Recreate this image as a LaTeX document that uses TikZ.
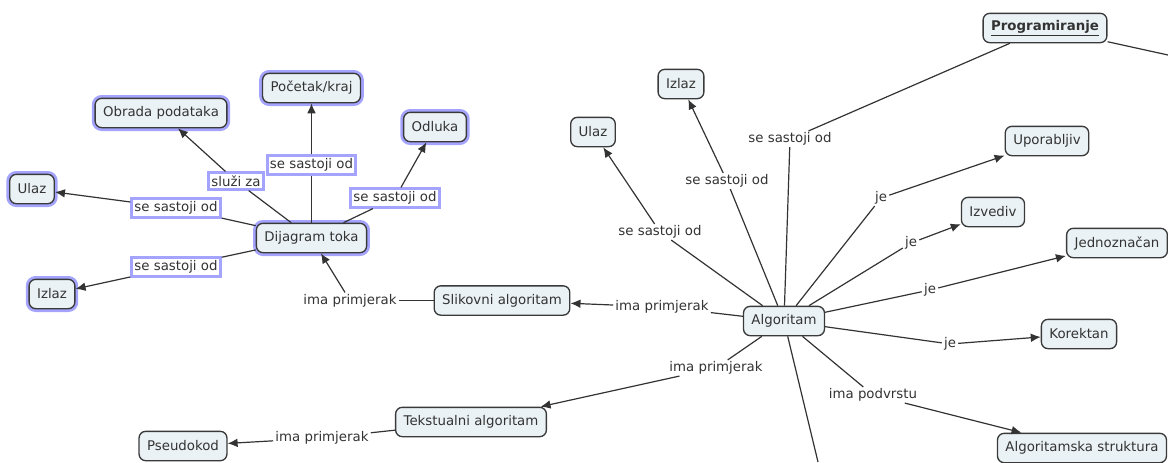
\documentclass[tikz,border=0pt]{standalone}
\usepackage{fontspec}
\setmainfont{DejaVu Sans}
\usetikzlibrary{arrows.meta}
\definecolor{conceptfill}{HTML}{EBF2F5}
\definecolor{conceptline}{HTML}{3A3A3A}
\definecolor{glow}{HTML}{A4A4FF}
\definecolor{ink}{HTML}{333333}
\tikzset{
  concept/.style={draw=conceptline, fill=conceptfill, rounded corners=5pt,
    line width=1pt, inner xsep=6pt, inner ysep=0pt, minimum height=22pt,
    text=ink, font=\fontsize{10}{12}\selectfont},
  hl/.style={preaction={draw=glow, line width=5pt}},
  link/.style={fill=white, inner xsep=1.5pt, inner ysep=1pt, text=ink,
    font=\fontsize{10}{12}\selectfont},
  hllink/.style={link, draw=glow, line width=2.2pt, inner xsep=2pt, inner ysep=2pt},
  conn/.style={draw=ink, line width=0.9pt},
  arr/.style={conn, -{Latex[length=7.5pt,width=6.5pt]}},
}
\begin{document}
\begin{tikzpicture}[x=0.75pt, y=-0.75pt]
\useasboundingbox (0,0) rectangle (1168,462);

% ---- flow chart cluster ----
\node[concept,hl] (obrada) at (161,113) {Obrada podataka};
\node[concept,hl] (pocetak) at (311.5,88) {Početak/kraj};
\node[concept,hl] (odluka) at (435,127) {Odluka};
\node[concept,hl] (ulazL) at (32,189) {Ulaz};
\node[concept,hl] (dt) at (311.5,238) {Dijagram toka};
\node[concept,hl] (izlazL) at (52,294) {Izlaz};
\node[concept] (slikovni) at (502,300.5) {Slikovni algoritam};

\node[hllink] (lsluzi) at (236,181) {služi za};
\node[hllink] (lpoc) at (311.5,165) {se sastoji od};
\node[hllink] (lodl) at (395,198) {se sastoji od};
\node[hllink] (lulaz) at (176,208) {se sastoji od};
\node[hllink] (lizl) at (176,267) {se sastoji od};
\node[link] (lslik) at (350,300.5) {ima primjerak};

\draw[conn] (dt) -- (lsluzi);  \draw[arr] (lsluzi) -- (obrada);
\draw[conn] (dt) -- (lpoc);    \draw[arr] (lpoc) -- (pocetak);
\draw[conn] (dt) -- (lodl);    \draw[arr] (lodl) -- (odluka);
\draw[conn] (dt) -- (lulaz);   \draw[arr] (lulaz) -- (ulazL);
\draw[conn] (dt) -- (lizl);    \draw[arr] (lizl) -- (izlazL);
\draw[conn] (slikovni) -- (lslik); \draw[arr] (lslik) -- (dt);

% ---- algorithm cluster ----
\node[concept, font=\fontsize{10}{12}\selectfont\bfseries] (prog) at (1045,28) {\underline{Programiranje}};
\node[concept] (izlazR) at (681,84) {Izlaz};
\node[concept] (ulazR) at (593,132) {Ulaz};
\node[concept] (upor) at (1047,141) {Uporabljiv};
\node[concept] (izved) at (993,212) {Izvediv};
\node[concept] (jedno) at (1117,243) {Jednoznačan};
\node[concept] (alg) at (784,321) {Algoritam};
\node[concept] (korekt) at (1079,334) {Korektan};
\node[concept] (struk) at (1082,448) {Algoritamska struktura};
\node[concept] (tekst) at (471,422) {Tekstualni algoritam};
\node[concept] (pseudo) at (183,446) {Pseudokod};

\node[link] (lprog) at (790,139) {se sastoji od};
\node[link] (lizR) at (727,181) {se sastoji od};
\node[link] (lulR) at (660,232) {se sastoji od};
\node[link] (lje1) at (881,198) {je};
\node[link] (lje2) at (911,243) {je};
\node[link] (lje3) at (930,290) {je};
\node[link] (lje4) at (950,344) {je};
\node[link] (lpod) at (873,395) {ima podvrstu};
\node[link] (ltek) at (716,368) {ima primjerak};
\node[link] (lslikR) at (662,307) {ima primjerak};
\node[link] (lpseudo) at (322,438) {ima primjerak};

\coordinate (offR) at (1168,55);
\coordinate (offB) at (818,462);

\draw[conn] (prog) -- (lprog);  \draw[conn] (lprog) -- (alg);
\draw[conn] (prog) -- (offR);
\draw[conn] (alg) -- (lizR);    \draw[arr] (lizR) -- (izlazR);
\draw[conn] (alg) -- (lulR);    \draw[arr] (lulR) -- (ulazR);
\draw[conn] (alg) -- (lje1);    \draw[arr] (lje1) -- (upor);
\draw[conn] (alg) -- (lje2);    \draw[arr] (lje2) -- (izved);
\draw[conn] (alg) -- (lje3);    \draw[arr] (lje3) -- (jedno);
\draw[conn] (alg) -- (lje4);    \draw[arr] (lje4) -- (korekt);
\draw[conn] (alg) -- (lpod);    \draw[arr] (lpod) -- (struk);
\draw[conn] (alg) -- (ltek);    \draw[arr] (ltek) -- (tekst);
\draw[conn] (alg) -- (lslikR);  \draw[arr] (lslikR) -- (slikovni);
\draw[conn] (tekst) -- (lpseudo); \draw[arr] (lpseudo) -- (pseudo);
\draw[conn] (alg) -- (offB);
\end{tikzpicture}
\end{document}
